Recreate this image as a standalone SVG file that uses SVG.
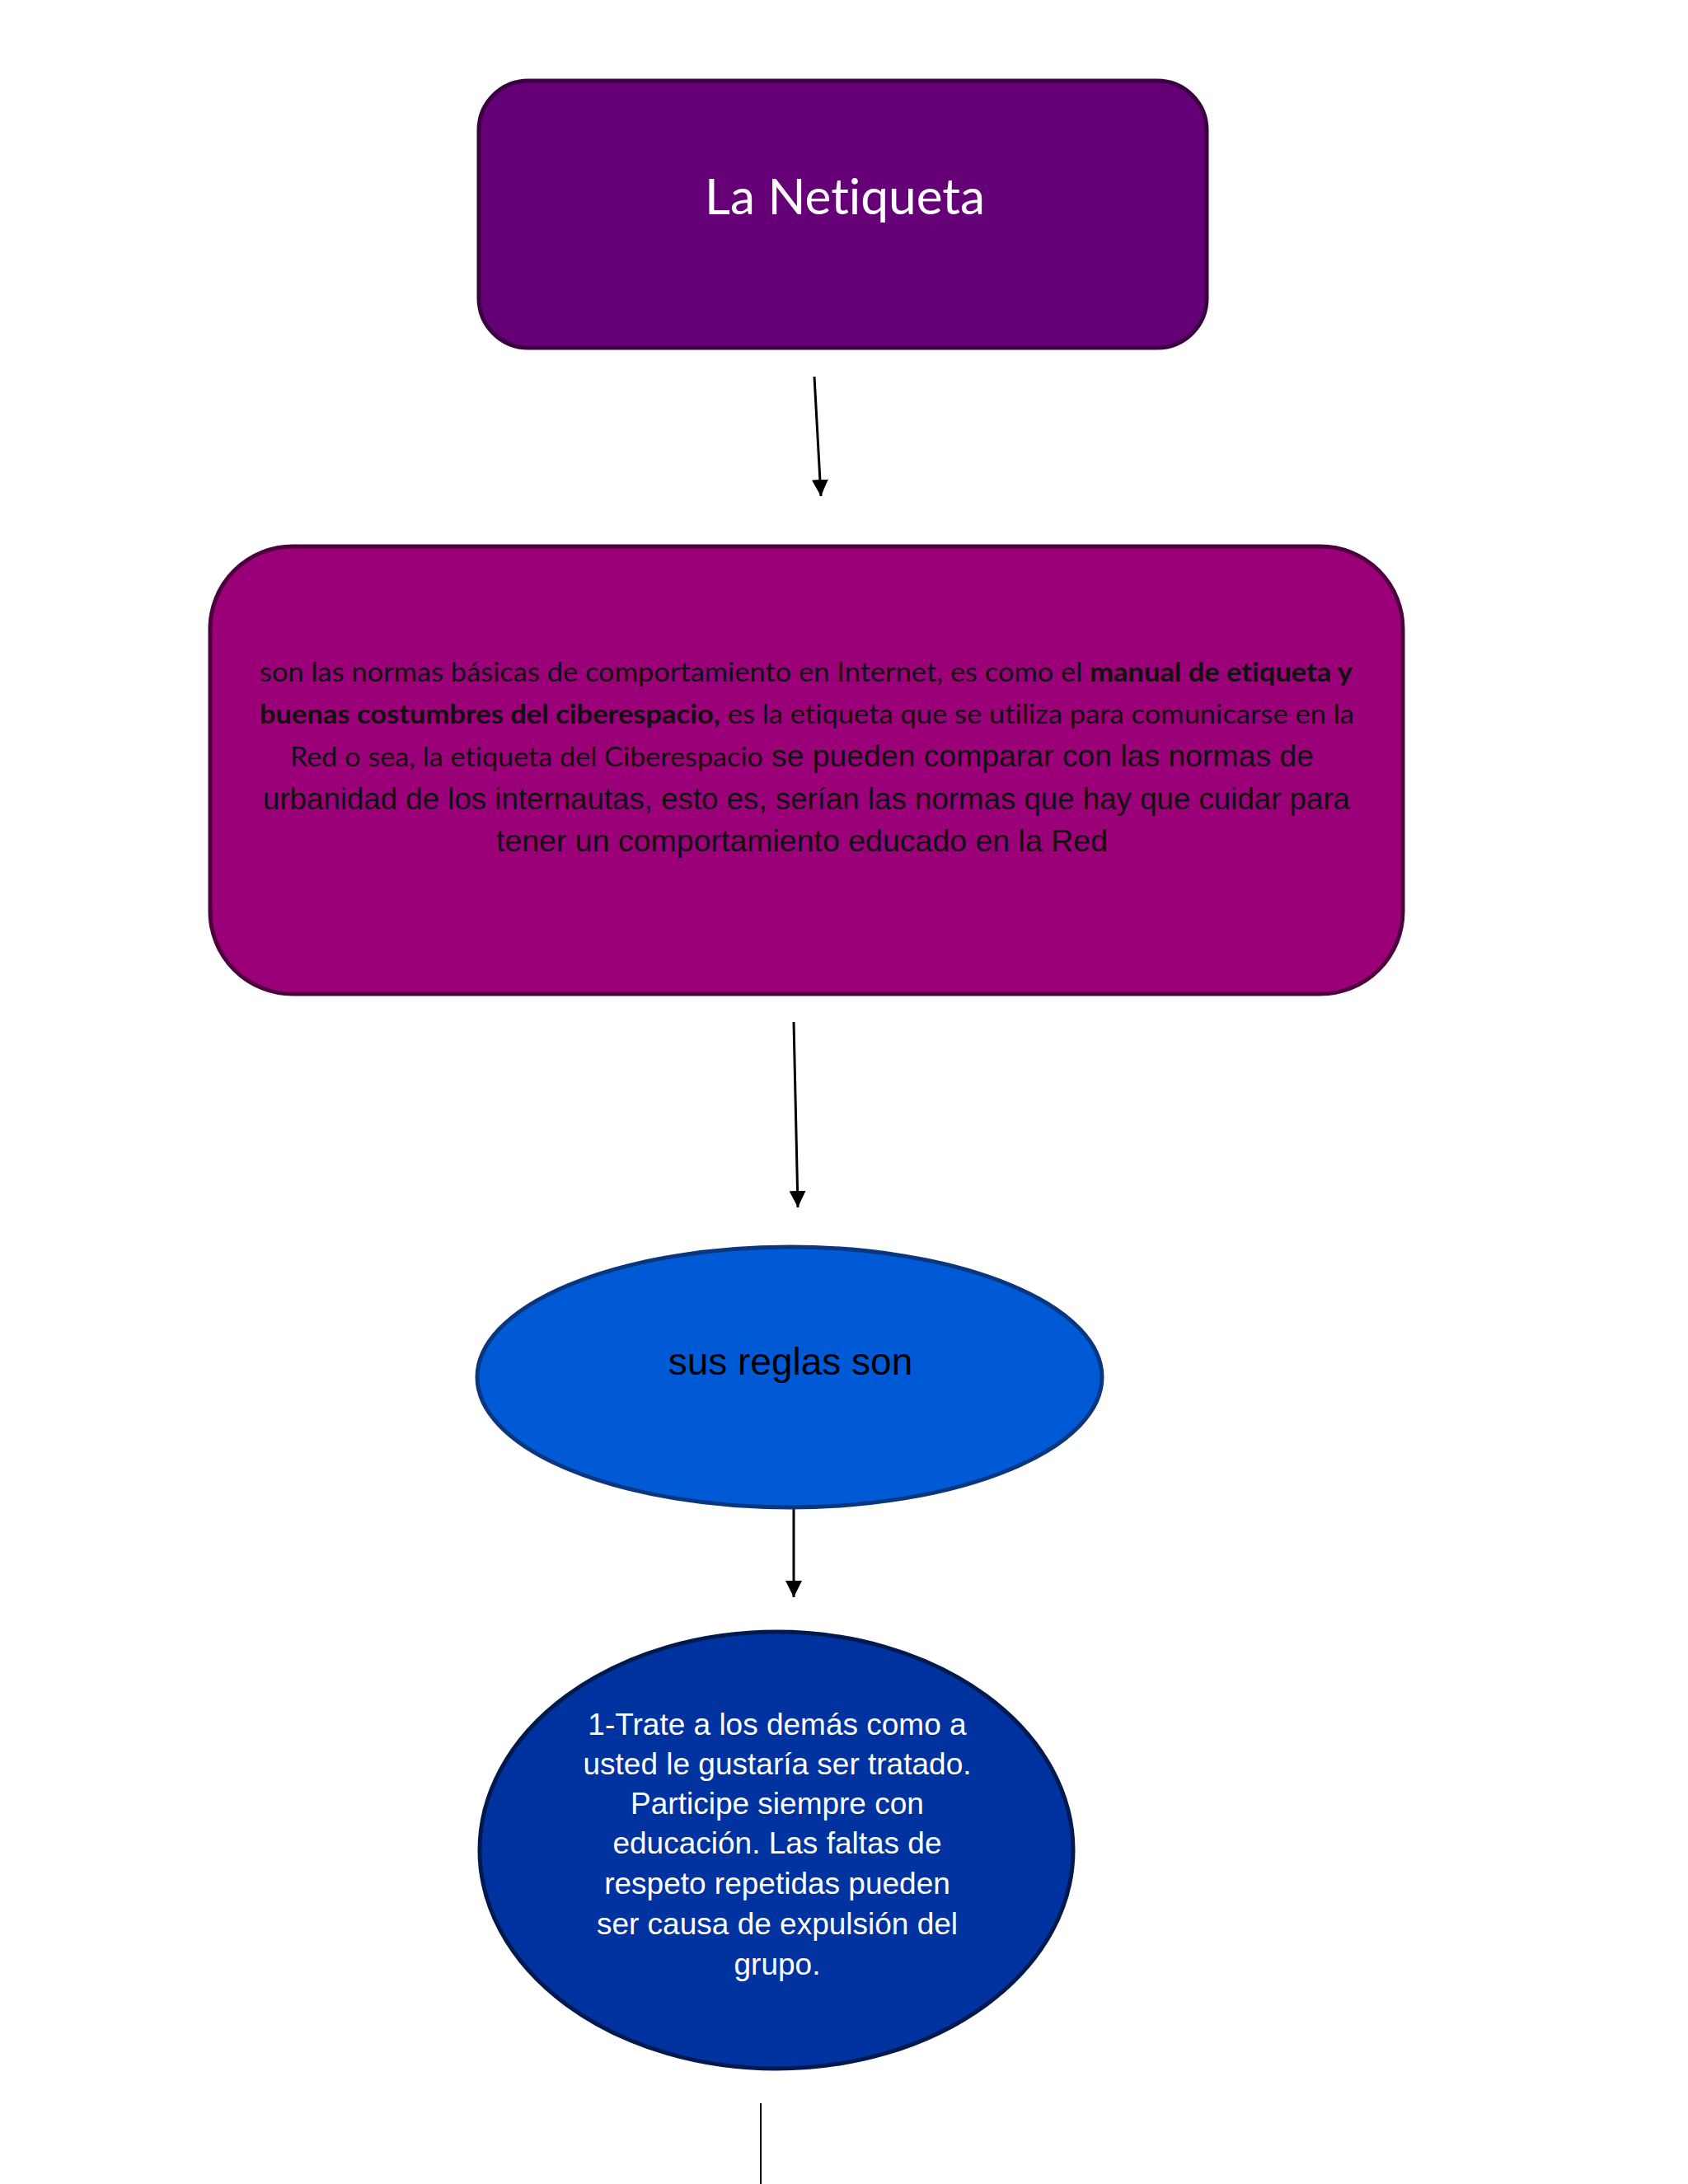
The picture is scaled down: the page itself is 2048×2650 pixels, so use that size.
<svg xmlns="http://www.w3.org/2000/svg" width="2048" height="2650" viewBox="0 0 2048 2650">
  <defs>
    <style>
      .cal { font-family: Lato, "Open Sans", "Liberation Sans", sans-serif; font-variant-ligatures: none; }
      .ari { font-family: "Liberation Sans", Arial, sans-serif; }
      .b { font-weight: bold; }
      .conn { stroke: #000; stroke-width: 3; fill: none; }
    </style>
    <marker id="arr" viewBox="0 0 20 20" refX="20" refY="10" markerWidth="20" markerHeight="20" markerUnits="userSpaceOnUse" orient="auto">
      <path d="M0,0 L20,10 L0,20 z" fill="#000"/>
    </marker>
  </defs>
  <rect x="0" y="0" width="2048" height="2650" fill="#ffffff"/>

  <g id="connectors">
    <line class="conn" x1="988" y1="457" x2="996" y2="602" marker-end="url(#arr)"/>
    <line class="conn" x1="963" y1="1240" x2="968" y2="1465" marker-end="url(#arr)"/>
    <line class="conn" x1="963" y1="1830" x2="963" y2="1938" marker-end="url(#arr)"/>
    <line x1="923" y1="2552" x2="923" y2="2650" stroke="#000" stroke-width="2"/>
  </g>

  <g id="node-netiqueta">
    <rect x="581" y="98" width="883" height="324" rx="60" ry="60" fill="#660077" stroke="#3a0040" stroke-width="5"/>
    <text class="cal" x="1025" y="260" font-size="60" fill="#ffffff" text-anchor="middle" textLength="340" lengthAdjust="spacingAndGlyphs">La Netiqueta</text>
  </g>

  <g id="node-definicion">
    <rect x="255" y="663" width="1447" height="543" rx="100" ry="100" fill="#9b0079" stroke="#4d003d" stroke-width="5"/>
    <g fill="#111">
      <text x="315" y="827" font-size="33" textLength="1326" lengthAdjust="spacingAndGlyphs"><tspan class="cal">son las normas básicas de comportamiento en Internet, es como el </tspan><tspan class="cal b">manual de etiqueta y</tspan></text>
      <text x="315" y="878" font-size="33" textLength="1328" lengthAdjust="spacingAndGlyphs"><tspan class="cal b">buenas costumbres del ciberespacio,</tspan><tspan class="cal"> es la etiqueta que se utiliza para comunicarse en la</tspan></text>
      <text x="352" y="930" font-size="33" class="cal" textLength="574" lengthAdjust="spacingAndGlyphs">Red o sea, la etiqueta del Ciberespacio</text>
      <text x="936" y="930" font-size="37" class="ari" textLength="658" lengthAdjust="spacingAndGlyphs">se pueden comparar con las normas de</text>
      <text x="319" y="982" font-size="37" class="ari" textLength="1319" lengthAdjust="spacingAndGlyphs">urbanidad de los internautas, esto es, serían las normas que hay que cuidar para</text>
      <text x="602" y="1033" font-size="37" class="ari" textLength="742" lengthAdjust="spacingAndGlyphs">tener un comportamiento educado en la Red</text>
    </g>
  </g>

  <g id="node-reglas">
    <ellipse cx="958" cy="1671" rx="379" ry="158" fill="#005ad5" stroke="#0a3680" stroke-width="5"/>
    <text class="ari" x="959" y="1668" font-size="46" fill="#000" text-anchor="middle">sus reglas son</text>
  </g>

  <g id="node-regla1">
    <ellipse cx="942" cy="2245" rx="360" ry="265" fill="#0033a0" stroke="#001a50" stroke-width="5"/>
    <g class="ari" font-size="37" fill="#ffffff" text-anchor="middle">
      <text x="943" y="2105">1-Trate a los demás como a</text>
      <text x="943" y="2153">usted le gustaría ser tratado.</text>
      <text x="943" y="2201">Participe siempre con</text>
      <text x="943" y="2249">educación. Las faltas de</text>
      <text x="943" y="2298">respeto repetidas pueden</text>
      <text x="943" y="2347">ser causa de expulsión del</text>
      <text x="943" y="2396">grupo.</text>
    </g>
  </g>
</svg>
